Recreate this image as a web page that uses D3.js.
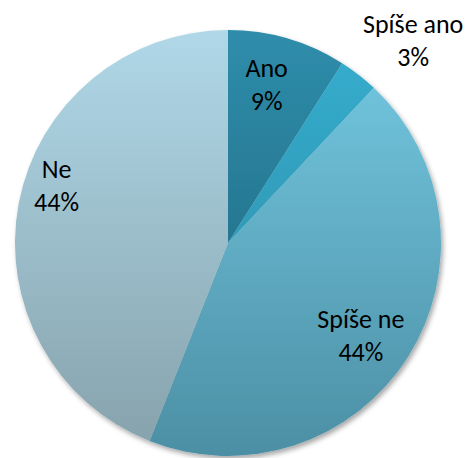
<!DOCTYPE html>
<html>
<head>
<meta charset="utf-8">
<script src="https://cdn.jsdelivr.net/npm/d3@7"></script>
<style>
  html, body { margin: 0; padding: 0; background: #fff; }
  svg { display: block; }
</style>
</head>
<body>
<div id="app"></div>
<script>
const categories = ['Ano', 'Spíše ano', 'Spíše ne', 'Ne'];
const values = [9, 3, 44, 44];
const labels = ['9%', '3%', '44%', '44%'];

(() => {
  const width = 468;
  const height = 458;
  const cx = 228;
  const cy = 243;
  const r = 213;
  const lineGap = 33;
  const font = 'Carlito, "Open Sans", "Noto Sans", sans-serif';

  // gradient (top, bottom) for each slice
  const fills = [
    ['#2e8dab', '#267790'],
    ['#35abcb', '#2f9bb8'],
    ['#6fc2db', '#4c8fa4'],
    ['#b0d8e8', '#87a3ad']
  ];
  // label nudges from the arc centroid
  const labelShift = [[-3, -12], [35, -6], [7, 16], [-25, -27]];

  const data = categories.map((c, i) => ({ name: c, value: values[i], label: labels[i] }));

  const pie = d3.pie().sort(null).value(d => d.value);
  const arcs = pie(data);
  const arc = d3.arc().innerRadius(0).outerRadius(r);
  const labelArc = d3.arc().innerRadius(r * 0.7).outerRadius(r * 0.7);
  const outerArc = d3.arc().innerRadius(r * 1.15).outerRadius(r * 1.15);

  const svg = d3.select('#app')
    .append('svg')
    .attr('width', width)
    .attr('height', height);

  const defs = svg.append('defs');

  const shadow = defs.append('filter')
    .attr('id', 'shadow')
    .attr('x', '-10%').attr('y', '-10%')
    .attr('width', '130%').attr('height', '130%');
  shadow.append('feDropShadow')
    .attr('dx', 2).attr('dy', 3)
    .attr('stdDeviation', 2.5)
    .attr('flood-color', '#000')
    .attr('flood-opacity', 0.35);

  fills.forEach((f, i) => {
    const g = defs.append('linearGradient')
      .attr('id', `grad-${i}`)
      .attr('x1', '0%').attr('y1', '0%')
      .attr('x2', '0%').attr('y2', '100%');
    g.append('stop').attr('offset', '0%').attr('stop-color', f[0]);
    g.append('stop').attr('offset', '100%').attr('stop-color', f[1]);
  });

  const g = svg.append('g')
    .attr('transform', `translate(${cx},${cy})`);

  g.append('g')
    .attr('filter', 'url(#shadow)')
    .selectAll('path')
    .data(arcs)
    .enter()
    .append('path')
    .attr('d', arc)
    .style('fill', (d, i) => `url(#grad-${i})`);

  // data labels
  const lbl = g.selectAll('text.lbl')
    .data(arcs)
    .enter()
    .append('text')
    .attr('class', 'lbl')
    .attr('transform', (d, i) => {
      const p = d.data.value < 5 ? outerArc.centroid(d) : labelArc.centroid(d);
      return `translate(${p[0] + labelShift[i][0]},${p[1] + labelShift[i][1]})`;
    })
    .attr('font-family', font)
    .attr('font-size', '26px')
    .style('fill', '#000')
    .style('text-anchor', 'middle');

  lbl.append('tspan')
    .attr('x', 0)
    .attr('y', -lineGap / 2 + 6)
    .text(d => d.data.name);

  lbl.append('tspan')
    .attr('x', 0)
    .attr('y', lineGap / 2 + 6)
    .text(d => d.data.label);
})();
</script>
</body>
</html>
